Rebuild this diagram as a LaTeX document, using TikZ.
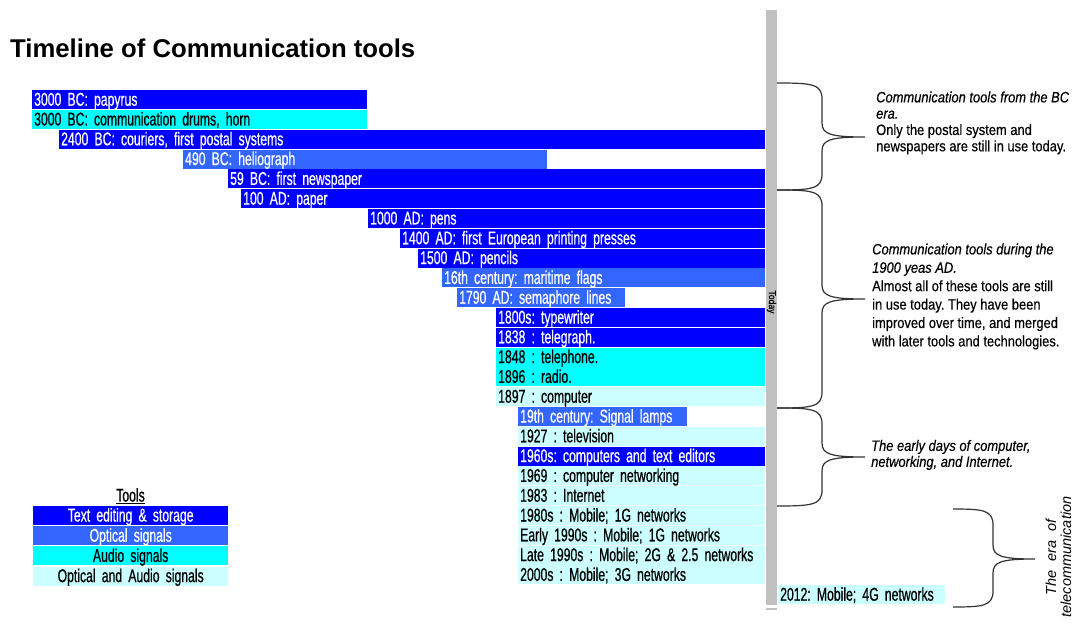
\documentclass[tikz,border=0pt]{standalone}
\usepackage{fontspec}
\setmainfont{Liberation Sans}
\newfontfamily\barfont[FakeStretch=0.66,FakeBold=0.6]{Liberation Sans}
\newfontfamily\notefont[FakeStretch=0.86,FakeBold=0.4]{Liberation Sans}
\newcommand\barsize{\barfont\fontsize{18.5}{19}\selectfont\frenchspacing\spaceskip=3.3pt plus 1pt minus 0.5pt\relax}
\newcommand\notesize[1]{\notefont\fontsize{15}{#1}\selectfont\frenchspacing\spaceskip=3.6pt plus 1pt minus 0.5pt\relax}
\usetikzlibrary{positioning}

\definecolor{txtblue}{HTML}{0000FF}
\definecolor{optblue}{HTML}{3366FF}
\definecolor{audcyan}{HTML}{00FFFF}
\definecolor{bothcyan}{HTML}{CCFFFF}
\definecolor{todaygray}{HTML}{C0C0C0}

% x0, x of the stem, x of the tip, y top, y tip, y bottom
\newcommand\curlybrace[6]{%
  \draw[bracestroke] (#1,#4) .. controls (#2-10,#4) and (#2,#4+1) .. (#2,#4+16)
    -- (#2,#5-14) .. controls (#2,#5-3) and (#2+8,#5) .. (#3,#5)
    .. controls (#2+8,#5) and (#2,#5+3) .. (#2,#5+14)
    -- (#2,#6-16) .. controls (#2,#6-1) and (#2-10,#6) .. (#1,#6);}

\begin{document}
\begin{tikzpicture}[x=1pt,y=-1pt,
    tbar/.style={anchor=north west,inner xsep=2pt,inner ysep=0pt,text height=15.5pt,text depth=3.5pt,
                 text width=#1,align=left,font=\barsize},
    txtbar/.style={tbar=#1,fill=txtblue,text=white},
    optbar/.style={tbar=#1,fill=optblue,text=white},
    audbar/.style={tbar=#1,fill=audcyan,text=black},
    bothbar/.style={tbar=#1,fill=bothcyan,text=black},
    note/.style={anchor=north west,inner sep=0pt,align=left},
    bracestroke/.style={draw=black!80,line width=1.2pt}]
    \useasboundingbox (0,0) rectangle (1075,628);

    \node[anchor=base west,inner sep=0pt,font=\bfseries\fontsize{25.7}{28}\selectfont] (title) at (10,57.7)
        {Timeline of Communication tools};

    % today axis
    \fill[todaygray] (766,10) rectangle (777,605);
    \draw[todaygray,line width=1.5pt] (766,609) -- (777,609);
    \node[rotate=-90,inner sep=0pt,font=\notefont\fontsize{10}{10}\selectfont] (today) at (771.5,302) {Today};

    % timeline bars
    \node[txtbar=331pt]  (papyrus)    at (32,90)    {3000 BC: papyrus};
    \node[audbar=331pt]  (drums)      at (32,109.8) {3000 BC: communication drums, horn};
    \node[txtbar=702pt]  (couriers)   at (59,129.6) {2400 BC: couriers, first postal systems};
    \node[optbar=360pt]  (heliograph) at (183,149.4) {490 BC: heliograph};
    \node[txtbar=533pt]  (newspaper)  at (228,169.2) {59 BC: first newspaper};
    \node[txtbar=520pt]  (paper)      at (241,189)  {100 AD: paper};
    \node[txtbar=393pt]  (pens)       at (368,208.8) {1000 AD: pens};
    \node[txtbar=361pt]  (presses)    at (400,228.6) {1400 AD: first European printing presses};
    \node[txtbar=343pt]  (pencils)    at (418,248.4) {1500 AD: pencils};
    \node[optbar=319pt]  (flags)      at (442,268.2) {16th century: maritime flags};
    \node[optbar=164pt]  (semaphore)  at (457,288)  {1790 AD: semaphore lines};
    \node[txtbar=265pt]  (typewriter) at (496,307.8) {1800s: typewriter};
    \node[txtbar=265pt]  (telegraph)  at (496,327.6) {1838 : telegraph.};
    \node[audbar=265pt]  (telephone)  at (496,347.4) {1848 : telephone.};
    \node[audbar=265pt]  (radio)      at (496,367.2) {1896 : radio.};
    \node[bothbar=265pt] (computer)   at (496,387)  {1897 : computer};
    \node[optbar=165pt]  (lamps)      at (518,406.8) {19th century: Signal lamps};
    \node[bothbar=243pt] (television) at (518,426.6) {1927 : television};
    \node[txtbar=243pt]  (editors)    at (518,446.4) {1960s: computers and text editors};
    \node[bothbar=243pt] (networking) at (518,466.2) {1969 : computer networking};
    \node[bothbar=243pt] (internet)   at (518,486)  {1983 : Internet};
    \node[bothbar=243pt] (mobileA)    at (518,505.8) {1980s : Mobile; 1G networks};
    \node[bothbar=243pt] (mobileB)    at (518,525.6) {Early 1990s : Mobile; 1G networks};
    \node[bothbar=243pt] (mobileC)    at (518,545.4) {Late 1990s : Mobile; 2G \& 2.5 networks};
    \node[bothbar=243pt] (mobileD)    at (518,565.2) {2000s : Mobile; 3G networks};
    \node[bothbar=163pt] (mobileE)    at (778,585)  {2012: Mobile; 4G networks};

    % legend
    \node[inner sep=0pt,font=\barsize] (tools) at (130.5,496) {\underline{Tools}};
    \node[txtbar=191pt,align=center]  (keytext) at (33,505.8) {Text editing \& storage};
    \node[optbar=191pt,align=center]  (keyopt)  [below=0.8pt of keytext] {Optical signals};
    \node[audbar=191pt,align=center]  (keyaud)  [below=0.8pt of keyopt] {Audio signals};
    \node[bothbar=191pt,align=center] (keyboth) [below=0.8pt of keyaud] {Optical and Audio signals};

    % braces and notes
    \curlybrace{777}{822}{865}{83}{137}{190}
    \curlybrace{777}{822}{865}{190}{299}{408}
    \curlybrace{777}{822}{865}{408}{457}{506}
    \curlybrace{953}{993}{1035}{509}{559}{607}

    \node[note,font=\notesize{16.3}] (bcnote) at (876,91.3)
        {\textit{Communication tools from the BC}\\\textit{era.}\\Only the postal system and\\newspapers are still in use today.};
    \node[note,font=\notesize{18.4}] (adnote) at (872,243.3)
        {\textit{Communication tools during the}\\\textit{1900 yeas AD.}\\Almost all of these tools are still\\in use today. They have been\\improved over time, and merged\\with later tools and technologies.};
    \node[note,font=\notesize{16}] (netnote) at (871,439.8)
        {\textit{The early days of computer,}\\\textit{networking, and Internet.}};
    \node[rotate=90,inner sep=0pt,align=center,font=\fontsize{14.5}{15}\selectfont] (eranote) at (1058.5,557)
        {\textit{The\hspace{9pt}era\hspace{9pt}of}\\\textit{telecommunication}};
\end{tikzpicture}
\end{document}
